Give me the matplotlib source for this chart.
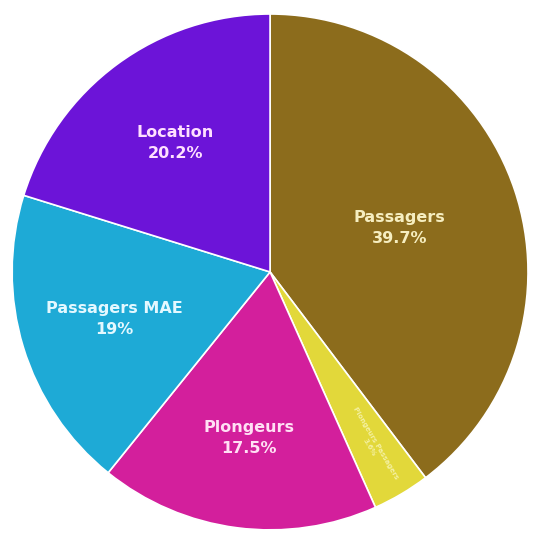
import matplotlib.pyplot as plt
import numpy as np

# Repartition de l'activite
categories = ["Passagers", "Plongeurs Passagers", "Plongeurs", "Passagers MAE", "Location"]
values = [39.7, 3.6, 17.5, 19.0, 20.2]
pct_labels = ["39.7%", "3.6%", "17.5%", "19%", "20.2%"]
colors = ["#8c6c1c", "#e2d83a", "#d31f9c", "#1eaad6", "#6c14d8"]
text_colors = ["#f6eec0", "#f4f0a0", "#ffe0f4", "#e4f8ff", "#ffe0ff"]

fig = plt.figure(figsize=(5.36, 5.39), dpi=100)
ax = fig.add_axes([0, 0, 1, 1])

wedges, _ = ax.pie(
    values,
    colors=colors,
    startangle=90,
    counterclock=False,
    radius=1.0,
    wedgeprops={"edgecolor": "white", "linewidth": 1.2},
)

# position radiale des etiquettes
dist = [0.53, 0.78, 0.65, 0.63, 0.62]
for w, name, pct, d, tc in zip(wedges, categories, pct_labels, dist, text_colors):
    ang = (w.theta1 + w.theta2) / 2
    x = d * np.cos(np.radians(ang))
    y = d * np.sin(np.radians(ang))
    if w.theta2 - w.theta1 < 20:
        ax.text(x, y, name + "\n" + pct, ha="center", va="center",
                rotation=ang, rotation_mode="anchor", fontsize=5,
                color=tc, linespacing=1.3, fontweight="bold")
    else:
        ax.text(x, y, name + "\n" + pct, ha="center", va="center",
                fontsize=11.5, color=tc, linespacing=1.5, fontweight="bold")

ax.set_xlim(-1.047, 1.031)
ax.set_ylim(-1.035, 1.054)
ax.set_aspect("equal")
ax.axis("off")

plt.savefig("out.png", dpi=100)
